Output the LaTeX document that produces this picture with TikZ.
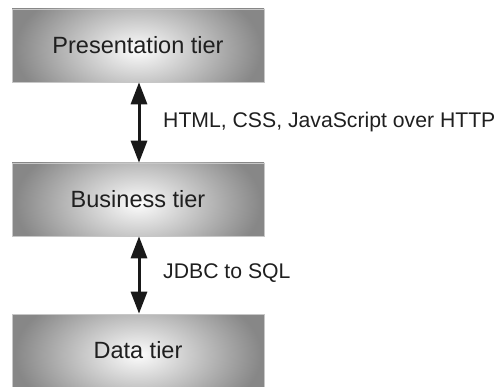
\documentclass[tikz,border=0pt]{standalone}
\usepackage{fontspec}
\setmainfont{Liberation Sans}
\usetikzlibrary{arrows.meta}
\pgfdeclareradialshading{tiershade}{\pgfpoint{0bp}{0bp}}{%
  color(0bp)=(white);
  color(2bp)=(white!95!black);
  color(24bp)=(black!47);
  color(50bp)=(black!47)}
\tikzset{
  tier/.style={rectangle, minimum width=252pt, minimum height=73pt,
    inner sep=0pt, draw=black!22, line width=0.6pt,
    path picture={
      \fill[black!47] (path picture bounding box.south west) rectangle
        (path picture bounding box.north east);
      \shade[shading=tiershade]
        ([xshift=-128pt,yshift=-78pt]path picture bounding box.center) rectangle
        ([xshift=128pt,yshift=70pt]path picture bounding box.center);
    },
    font=\fontsize{23.5}{26}\selectfont, text=black!88},
  link/.style={line width=3pt, black!90,
    {Triangle[width=16pt,length=22pt]}-{Triangle[width=16pt,length=22pt]}},
  lbl/.style={anchor=west, inner sep=0pt,
    font=\fontsize{21.2}{24}\selectfont, text=black!88}
}
\begin{document}
\begin{tikzpicture}[x=1pt,y=-1pt]
\useasboundingbox (0,0) rectangle (502,387);
\node[tier] (pres) at (138,45.5) {Presentation tier};
\node[tier] (bus)  at (138,199.5) {Business tier};
\node[tier] (data) at (138,350.5) {Data tier};
\draw[link] ([xshift=1pt]pres.south) -- ([xshift=1pt]bus.north);
\draw[link] ([xshift=1pt]bus.south) -- ([xshift=1pt]data.north);
\node[lbl] (l1) at (163,122) {HTML, CSS, JavaScript over HTTP};
\node[lbl] (l2) at (163,273) {JDBC to SQL};
\end{tikzpicture}
\end{document}
